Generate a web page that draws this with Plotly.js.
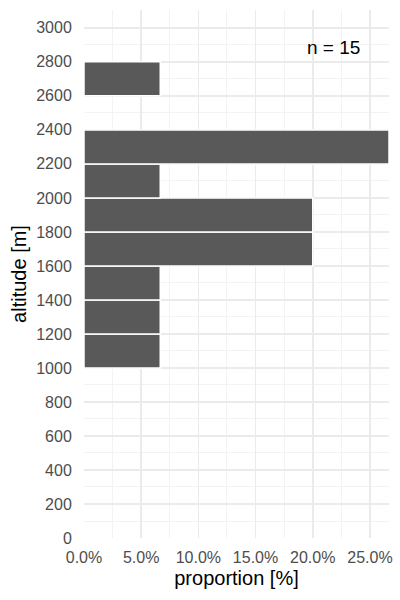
<!DOCTYPE html>
<html>
<head>
<meta charset="utf-8">
<script src="https://cdn.plot.ly/plotly-3.0.1.min.js"></script>
<style>html,body{margin:0;padding:0;background:#fff;}#chart{width:400px;height:600px;}</style>
</head>
<body>
<div id="chart"></div>
<script>
// altitude bins (lower edges, m) and observation counts per bin
const binStart = [1000, 1200, 1400, 1600, 1800, 2000, 2200, 2400, 2600];
const binWidth = 200;
const counts   = [1, 1, 1, 3, 3, 1, 4, 0, 1];
const nTotal = 15;
const proportion = counts.map(c => c / nTotal * 100);
const binCenter = binStart.map(b => b + binWidth / 2);

const yTicks = [0,200,400,600,800,1000,1200,1400,1600,1800,2000,2200,2400,2600,2800,3000];
const xTicks = [0, 5, 10, 15, 20, 25];

const fontFam = 'Liberation Sans, Arial, sans-serif';

const trace = {
  type: 'bar',
  orientation: 'h',
  x: proportion,
  y: binCenter,
  width: binWidth,
  marker: {color: '#595959', line: {color: '#ffffff', width: 1.5}},
  hoverinfo: 'skip'
};

const layout = {
  width: 400, height: 600,
  margin: {l: 84, r: 11, t: 10, b: 62},
  paper_bgcolor: '#ffffff', plot_bgcolor: '#ffffff',
  showlegend: false,
  bargap: 0,
  font: {family: fontFam},
  xaxis: {
    range: [0, Math.max(...proportion)],
    tickvals: xTicks,
    ticktext: xTicks.map(v => v.toFixed(1) + '%'),
    ticks: 'outside', ticklen: 5, tickcolor: 'rgba(0,0,0,0)',
    tickfont: {size: 16, color: '#4d4d4d', family: fontFam},
    showgrid: true, gridcolor: '#ebebeb', gridwidth: 1.5,
    minor: {dtick: 2.5, tick0: 0, showgrid: true, gridcolor: '#f3f3f3', gridwidth: 1},
    zeroline: false, showline: false,
    title: {text: 'proportion [%]', font: {size: 20, color: '#000000', family: fontFam}, standoff: 5}
  },
  yaxis: {
    range: [0, 3105],
    tickvals: yTicks,
    ticks: 'outside', ticklen: 8, tickcolor: 'rgba(0,0,0,0)',
    tickfont: {size: 16, color: '#4d4d4d', family: fontFam},
    showgrid: true, gridcolor: '#ebebeb', gridwidth: 1.5,
    minor: {dtick: 100, tick0: 0, showgrid: true, gridcolor: '#f3f3f3', gridwidth: 1},
    zeroline: false, showline: false,
    title: {text: 'altitude [m]', font: {size: 20, color: '#000000', family: fontFam}, standoff: 4}
  },
  annotations: [{
    x: 21.8, y: 2882, xref: 'x', yref: 'y',
    text: 'n = ' + nTotal, showarrow: false,
    font: {size: 19, color: '#000000', family: fontFam},
    xanchor: 'center', yanchor: 'middle'
  }]
};

Plotly.newPlot('chart', [trace], layout, {displayModeBar: false, staticPlot: true});
</script>
</body>
</html>
